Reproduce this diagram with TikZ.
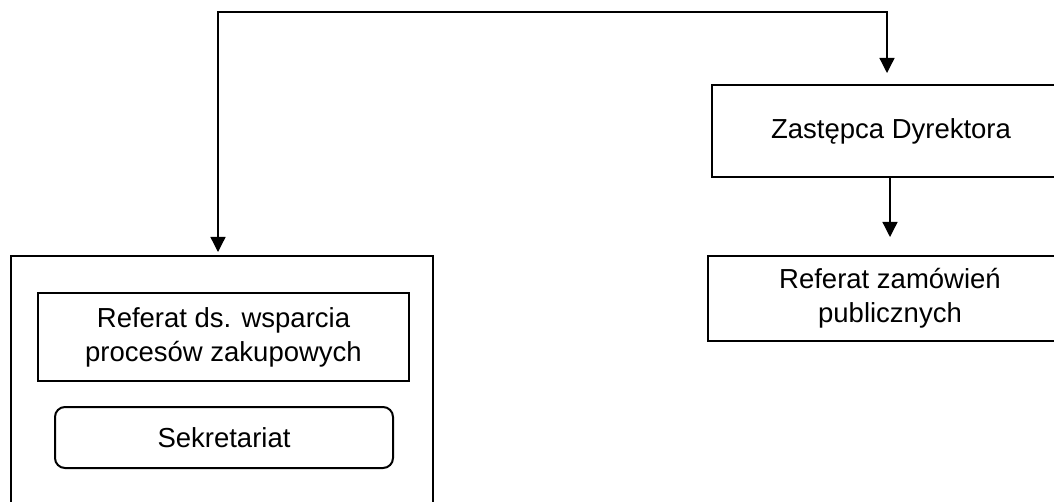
\documentclass[tikz,border=0pt]{standalone}
\usepackage{fontspec}
\setmainfont{Liberation Sans}
\usepackage{tikz}
\usetikzlibrary{arrows.meta, positioning}
\tikzset{
  unitbox/.style={draw=black, line width=2pt, rectangle, align=center,
                  inner sep=4pt, font=\fontsize{27.5pt}{34pt}\selectfont},
  roundbox/.style={unitbox, rounded corners=10pt},
  arr/.style={-{Triangle[length=15pt, width=15pt]}, line width=1.3pt, black},
  darr/.style={{Triangle[length=15pt, width=15pt]}-{Triangle[length=15pt, width=15pt]},
               line width=1.3pt, black},
}
\begin{document}
\begin{tikzpicture}[x=1pt, y=-1pt]
  \clip (0,0) rectangle (1054,502);

  %% Right branch
  \node[unitbox, minimum width=358pt, minimum height=92pt] (dyr) at (891,131) {Zastępca Dyrektora};
  \node[unitbox, minimum width=364pt, minimum height=85pt] (zam) at (890,298.5) {Referat zamówień\\publicznych};

  %% Left branch -- outer frame runs off the page
  \node[unitbox, minimum width=422pt, minimum height=300pt, anchor=north] (outer) at (222,255) {};
  \node[unitbox, minimum width=371pt, minimum height=88pt] (ref) at (223.5,337) {Referat ds. wsparcia\\procesów zakupowych};
  \node[roundbox, minimum width=338pt, minimum height=61pt] (sek) at (224,437.5) {Sekretariat};

  %% Connectors
  \coordinate (top) at (0,12);
  \draw[darr, shorten <=3pt, shorten >=11pt]
    ([xshift=-4pt]outer.north) -- ([xshift=-4pt]outer.north |- top)
    -| ([xshift=-4pt]dyr.north);
  \draw[arr, shorten >=18pt] ([xshift=-1pt]dyr.south) -- ([xshift=-1pt]dyr.south |- zam.north);
\end{tikzpicture}
\end{document}
